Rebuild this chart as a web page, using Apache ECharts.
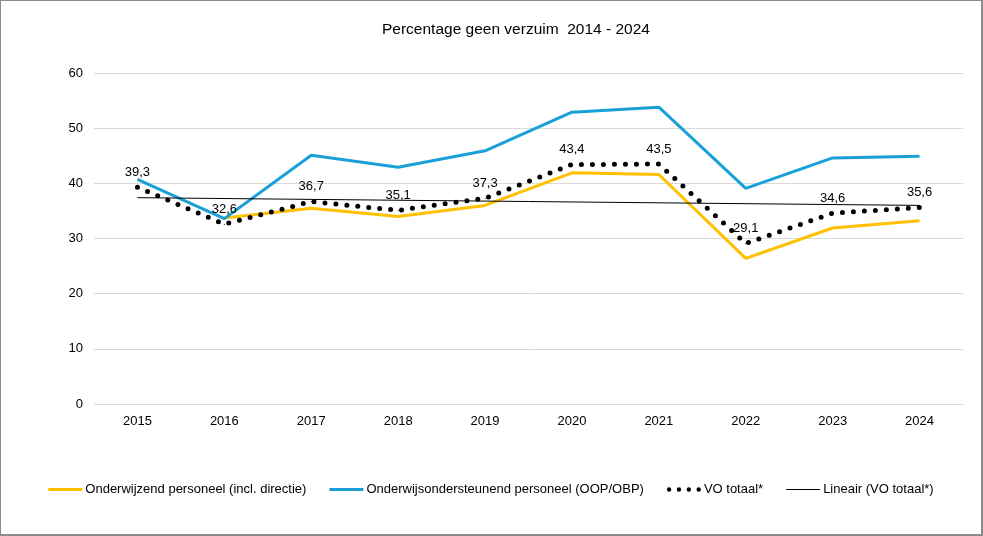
<!DOCTYPE html>
<html><head><meta charset="utf-8">
<script src="https://cdn.jsdelivr.net/npm/echarts@6/dist/echarts.min.js"></script>
<style>html,body{margin:0;padding:0;background:#fff}
#c{width:983px;height:536px;box-sizing:border-box;border:1px solid #8c8c8c;border-right-width:2px;border-bottom-width:2px}</style>
</head><body><div id="c"></div>
<script>
const years = ['2015','2016','2017','2018','2019','2020','2021','2022','2023','2024'];
const onderwijzend = [null, 33.7, 35.5, 34.0, 36.0, 41.9, 41.6, 26.4, 31.9, 33.2];
const oop = [40.7, 33.6, 45.1, 42.9, 45.9, 52.9, 53.8, 39.1, 44.6, 44.9];
const voTotaal = [39.3, 32.6, 36.7, 35.1, 37.3, 43.4, 43.5, 29.1, 34.6, 35.6];
const lineair = [37.4, null, null, null, null, null, null, null, null, 36.0];
const yTicks = [0, 10, 20, 30, 40, 50, 60];

const chart = echarts.init(document.getElementById('c'));
const font = 'Liberation Sans, Arial, sans-serif';
const barIcon = 'path://M0,0 L34,0 L34,3 L0,3 Z';
const thinIcon = 'path://M0,0 L34,0 L34,1 L0,1 Z';
const dotsIcon = 'path://M2,0 A2,2 0 1 1 1.99,0 Z M11,0 A2,2 0 1 1 10.99,0 Z M20,0 A2,2 0 1 1 19.99,0 Z M29,0 A2,2 0 1 1 28.99,0 Z';
chart.setOption({
  animation: false,
  textStyle: {fontFamily: font},
  title: {text: 'Percentage geen verzuim  2014 - 2024', left: 376, top: 16,
    textStyle: {fontFamily: font, fontSize: 15.5, fontWeight: 'normal', color: '#000'}},
  grid: {left: 93, right: 18, top: 72, bottom: 130, containLabel: false},
  legend: {bottom: 33, left: 'center', itemWidth: 34, itemHeight: 10, itemGap: 23,
    textStyle: {fontFamily: font, fontSize: 13, color: '#000', padding: [0, 0, 0, -2]},
    data: [
      {name: 'Onderwijzend personeel (incl. directie)', icon: barIcon, itemHeight: 3},
      {name: 'Onderwijsondersteunend personeel (OOP/OBP)', icon: barIcon, itemHeight: 3},
      {name: 'VO totaal*', icon: dotsIcon, itemHeight: 4},
      {name: 'Lineair (VO totaal*)', icon: thinIcon, itemHeight: 1}
    ]},
  xAxis: {type: 'category', data: years, boundaryGap: true,
    axisLine: {show: false}, axisTick: {show: false},
    axisLabel: {color: '#000', fontSize: 13, margin: 11}},
  yAxis: {type: 'value', min: yTicks[0], max: yTicks[yTicks.length-1], interval: 10,
    axisLine: {show: false}, axisTick: {show: false},
    axisLabel: {color: '#000', fontSize: 13, margin: 11},
    splitLine: {lineStyle: {color: '#d9d9d9', width: 1}}},
  series: [
    {name: 'Onderwijzend personeel (incl. directie)', type: 'line', data: onderwijzend, symbol: 'none',
      lineStyle: {color: '#FFC000', width: 3}, itemStyle: {color: '#FFC000'}, z: 3},
    {name: 'Onderwijsondersteunend personeel (OOP/OBP)', type: 'line', data: oop, symbol: 'none',
      lineStyle: {color: '#1AA0D8', width: 3}, itemStyle: {color: '#1AA0D8'}, z: 3},
    {name: 'VO totaal*', type: 'line', data: voTotaal, symbol: 'circle', symbolSize: 1, showSymbol: true,
      lineStyle: {color: '#000', width: 5, type: [0, 11], cap: 'round'}, itemStyle: {color: '#000'}, z: 4,
      label: {show: true, position: 'top', distance: 8, color: '#000', fontSize: 13, fontFamily: font,
        formatter: p => String(p.value).replace('.', ',')}},
    {name: 'Lineair (VO totaal*)', type: 'line', data: lineair, connectNulls: true, symbol: 'none',
      lineStyle: {color: '#000', width: 1}, itemStyle: {color: '#000'}, z: 5}
  ]
});
</script></body></html>
